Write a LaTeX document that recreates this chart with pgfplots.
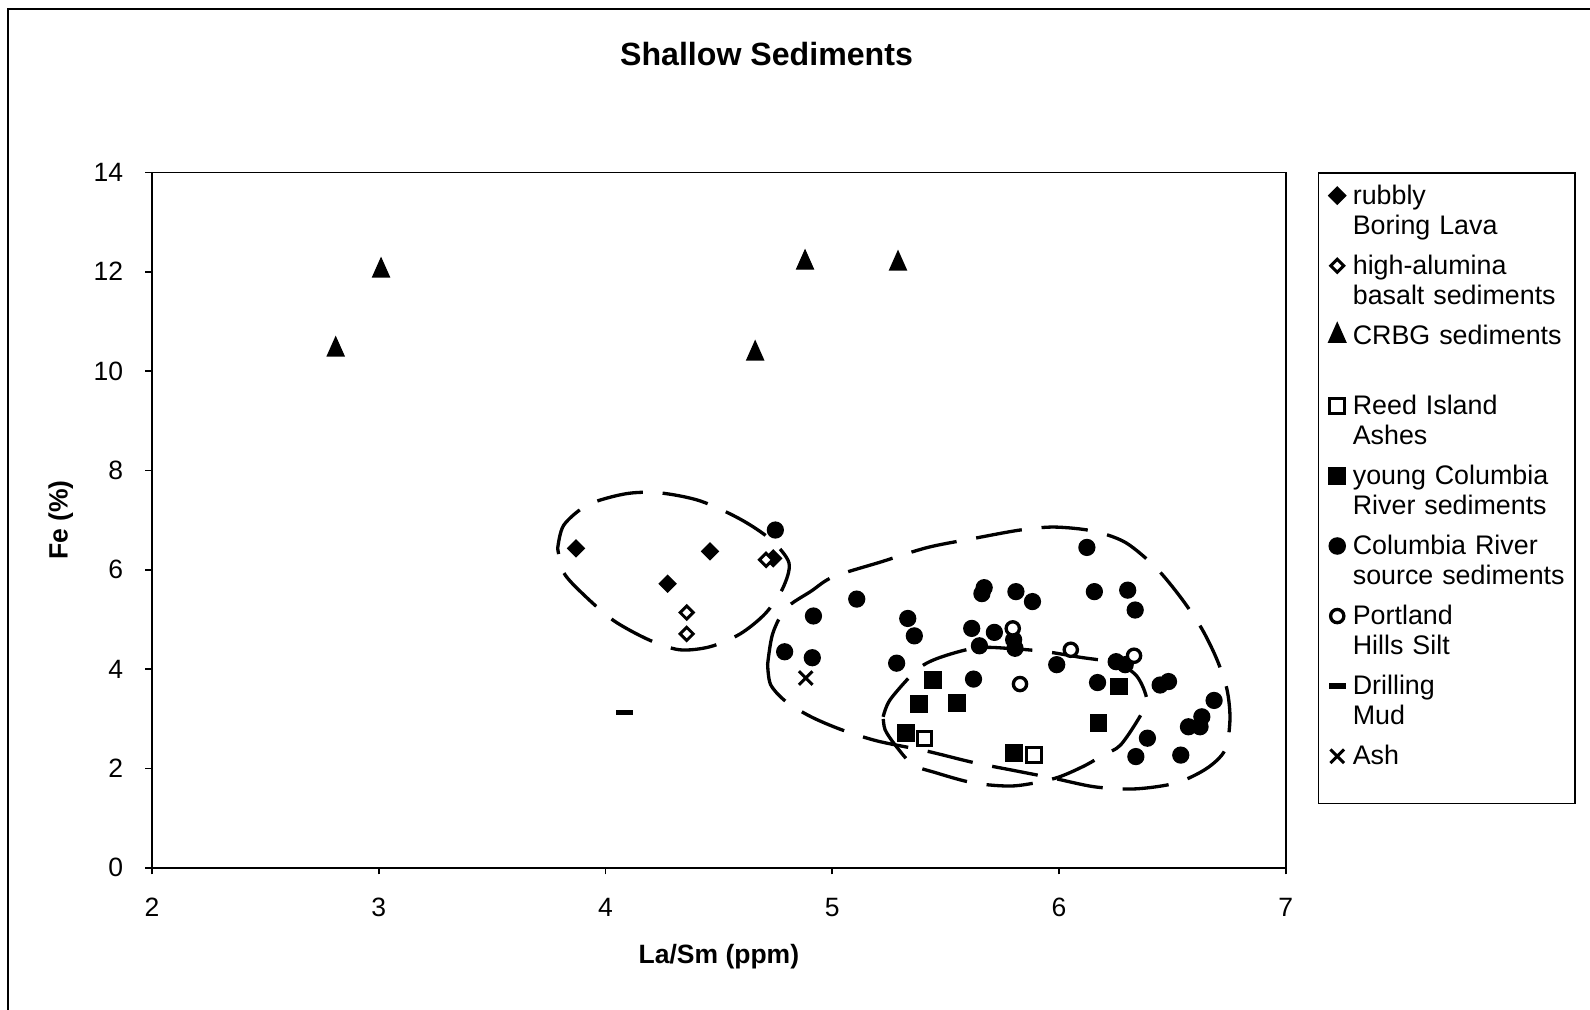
\documentclass[border=0pt]{standalone}
\usepackage{pgfplots}
\pgfplotsset{compat=1.18}
\usepackage{fontspec}
\setmainfont{Liberation Sans}
\pgfplotsset{myleg/.style={legend image code/.code={\draw[##1] plot coordinates {(0pt,2.6pt)};}}}
\begin{document}
\begin{tikzpicture}
\useasboundingbox (-45.9pt,-42.9pt) rectangle (434.1pt,262pt);
\draw[line width=0.6pt] (-43.5pt,-42.9pt) -- (-43.5pt,259.3pt) -- (434.1pt,259.3pt);
\begin{axis}[
 scale only axis, width=342.25pt, height=209.97pt,
 xmin=2, xmax=7, ymin=0, ymax=14,
 xtick={2,3,4,5,6,7}, ytick={0,2,4,6,8,10,12,14},
 tick align=outside, xtick pos=bottom, ytick pos=left, major tick length=2pt,
 axis line style={line width=0.5pt}, tick style={line width=0.5pt, black},
 /pgf/number format/assume math mode=true,
 tick label style={font=\fontsize{8}{9.6}\selectfont},
 xticklabel style={anchor=north, inner sep=0pt, yshift=-7pt},
 yticklabel style={anchor=east, inner sep=0pt, xshift=-6.5pt},
 xlabel={La/Sm (ppm)}, ylabel={Fe (\%)},
 label style={font=\bfseries\fontsize{8}{9.6}\selectfont},
 xlabel style={at={(axis description cs:0.5,-0.128)}, anchor=center},
 ylabel style={at={(axis description cs:-0.0806,0.5)}, anchor=center},
 title={Shallow Sediments},
 title style={font=\bfseries\fontsize{9.7}{11}\selectfont, at={(axis description cs:0.542,1.1706)}, anchor=center, yshift=-6pt},
 legend style={at={(axis description cs:1.0283,1)}, anchor=north west, draw=black, line width=0.5pt,
   inner xsep=3.1pt, inner ysep=2.2pt, row sep=4.45pt, column sep=2.2pt,
   cells={anchor=base west},
   nodes={inner sep=0pt, text width=64pt, align=left, text height=7.2pt, text depth=9.5pt, font=\fontsize{8.1}{9.05}\selectfont}},
]
% dashed outlines
\addplot[forget plot, smooth, black, line width=1pt, dash pattern=on 14pt off 6pt] coordinates {
(3.789,6.43)(3.816,6.90)(3.923,7.31)(4.089,7.53)(4.236,7.55)(4.415,7.39)(4.594,7.02)(4.728,6.61)(4.809,6.14)(4.782,5.63)(4.705,5.12)(4.594,4.71)(4.460,4.45)(4.326,4.39)(4.191,4.59)(4.035,4.98)(3.901,5.51)(3.816,5.94)(3.789,6.43)};
\addplot[forget plot, smooth, black, line width=1pt, dash pattern=on 14pt off 6pt] coordinates {
(4.715,4.10)(4.737,4.71)(4.795,5.22)(4.907,5.57)(5.005,5.86)(5.216,6.16)(5.421,6.45)(5.623,6.63)(5.828,6.80)(5.980,6.86)(6.150,6.78)(6.293,6.55)(6.428,6.04)(6.539,5.43)(6.629,4.82)(6.696,4.20)(6.741,3.59)(6.754,2.98)(6.732,2.37)(6.651,2.00)(6.517,1.71)(6.338,1.59)(6.159,1.63)(5.980,1.80)(5.801,1.96)(5.623,2.12)(5.417,2.35)(5.202,2.55)(5.041,2.78)(4.907,3.04)(4.795,3.35)(4.728,3.69)(4.715,4.10)};
\addplot[forget plot, smooth, black, line width=1pt, dash pattern=on 14pt off 6pt] coordinates {
(5.2245,3.04)(5.256,3.39)(5.372,3.98)(5.466,4.22)(5.636,4.43)(5.801,4.41)(5.945,4.35)(6.092,4.24)(6.253,4.12)(6.343,3.86)(6.387,3.39)(6.356,3.04)(6.271,2.47)(6.195,2.27)(6.106,2.04)(5.980,1.80)(5.801,1.65)(5.623,1.71)(5.453,1.92)(5.354,2.08)(5.278,2.47)(5.233,2.78)(5.2245,3.04)};
% rubbly Boring Lava
\addplot[black, only marks, mark=square*, mark size=1.77pt, mark options={rotate=45, fill=black}, myleg] coordinates {
(3.870,6.43)(4.274,5.72)(4.461,6.37)(4.740,6.23)};
\addlegendentry{rubbly\\Boring Lava}
% high-alumina basalt sediments
\addplot[black, only marks, mark=square*, mark size=1.4pt, mark options={rotate=45, fill=white, line width=0.9pt}, myleg] coordinates {
(4.358,5.14)(4.358,4.71)(4.708,6.20)};
\addlegendentry{high-alumina\\basalt sediments}
% CRBG sediments
\addplot[black, only marks, mark=triangle*, mark size=2.9pt, mark options={yscale=1.3, fill=black}, myleg] coordinates {
(2.81,10.43)(3.01,12.02)(4.66,10.35)(4.88,12.18)(5.29,12.16)};
\addlegendentry{CRBG sediments}
% Reed Island Ashes
\addplot[black, only marks, mark=square*, mark size=2.2pt, mark options={fill=white, line width=0.9pt}, myleg] coordinates {
(5.406,2.60)(5.89,2.27)};
\addlegendentry{Reed Island\\Ashes}
% young Columbia River sediments
\addplot[black, only marks, mark=square*, mark size=2.5pt, mark options={fill=black}, myleg] coordinates {
(5.443,3.78)(5.383,3.29)(5.549,3.31)(5.324,2.71)(5.802,2.31)(6.265,3.65)(6.174,2.91)};
\addlegendentry{young Columbia\\River sediments}
% Columbia River source sediments
\addplot[black, only marks, mark=*, mark size=2.4pt, mark options={fill=black}, myleg] coordinates {
(4.749,6.80)(5.108,5.41)(4.917,5.07)(4.79,4.35)(4.912,4.23)(5.333,5.02)(5.362,4.67)(5.284,4.12)
(5.67,5.64)(5.66,5.52)(5.81,5.56)(5.883,5.36)(5.615,4.82)(5.715,4.74)(5.80,4.59)(5.806,4.42)
(5.649,4.47)(5.623,3.80)(5.99,4.09)(6.123,6.45)(6.156,5.56)(6.303,5.59)(6.336,5.19)(6.252,4.15)
(6.292,4.09)(6.17,3.73)(6.446,3.68)(6.483,3.75)(6.684,3.37)(6.571,2.84)(6.622,2.84)(6.63,3.04)
(6.39,2.61)(6.339,2.24)(6.537,2.27)};
\addlegendentry{Columbia River\\source sediments}
% Portland Hills Silt
\addplot[black, only marks, mark=*, mark size=2pt, mark options={fill=white, line width=1pt}, myleg] coordinates {
(5.796,4.82)(5.828,3.70)(6.052,4.39)(6.331,4.27)};
\addlegendentry{Portland\\Hills Silt}
% Drilling Mud
\addplot[black, only marks, mark=-, mark size=2.5pt, mark options={line width=1.6pt}, myleg] coordinates {
(4.083,3.13)};
\addlegendentry{Drilling\\Mud}
% Ash
\addplot[black, only marks, mark=x, mark size=2.9pt, mark options={line width=0.9pt}, myleg] coordinates {
(4.883,3.82)};
\addlegendentry{Ash}
\end{axis}
\end{tikzpicture}
\end{document}
